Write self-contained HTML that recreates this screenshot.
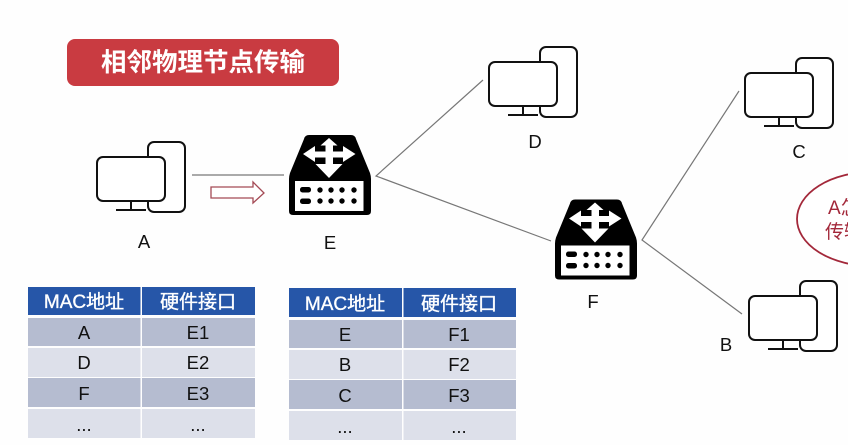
<!DOCTYPE html>
<html><head><meta charset="utf-8"><style>
html,body{margin:0;padding:0;background:#fff}
svg{display:block;filter:blur(.35px)}
text{font-family:"Liberation Sans","Noto Sans CJK SC",sans-serif;text-anchor:middle}
.l{font-size:18.5px;fill:#111}
.h{font-size:19px;fill:#fff;stroke:#fff;stroke-width:.35px}
.c{font-size:18.5px;fill:#111}
.e{font-size:19px;fill:#a3283a;text-anchor:start}
</style></head><body>
<svg width="848" height="445" viewBox="0 0 848 445" xmlns="http://www.w3.org/2000/svg">
<defs>
<g id="pc" fill="none" stroke="#111" stroke-width="2">
<rect x="51" y="-15" width="37" height="70" rx="6" fill="#fff"/>
<rect x="0" y="0" width="68" height="44" rx="6" fill="#fff"/>
<path d="M34 44V53M19 53H49"/>
</g>
<g id="rt">
<path d="M20 0H62Q66 0 67 4L81 38Q82 41 82 44V76Q82 80 78 80H4Q0 80 0 76V44Q0 41 1 38L15 4Q16 0 20 0Z" fill="#000"/>
<rect x="6" y="46" width="68.500" height="30" fill="#fff"/>
<path d="M40 3L48.500 10.500H44V16.500H54V11L66.500 19L54 27V22.500H44V29H53.500L40 43L26.500 29H36.500V22.500H26V27L14 19L26 11V16.500H36.500V10.500H31.500Z" fill="#fff"/>
<g fill="#000">
<rect x="11" y="52" width="11" height="5.500" rx="2.500"/><rect x="11" y="63.500" width="11" height="5.500" rx="2.500"/>
<circle cx="31" cy="55" r="2.700"/><circle cx="42" cy="55" r="2.700"/><circle cx="53" cy="55" r="2.700"/><circle cx="65" cy="55" r="2.700"/>
<circle cx="31" cy="66" r="2.700"/><circle cx="42" cy="66" r="2.700"/><circle cx="53" cy="66" r="2.700"/><circle cx="65" cy="66" r="2.700"/>
</g>
</g>
</defs>
<rect width="848" height="445" fill="#fefefe"/>

<rect x="67" y="39" width="272" height="47" rx="8" fill="#c93b41"/>
<text x="203" y="71" style="font-size:25.500px;font-weight:700;fill:#fff">相邻物理节点传输</text>

<g stroke="#777" stroke-width="1.200" fill="none">
<path d="M192 175H284"/>
<path d="M483 80L376 176L551 241"/>
<path d="M739 91L642 240L742 314"/>
</g>
<path d="M211 187H253V182L264 193L253 203V198H211Z" fill="#fff" stroke="#a44a55" stroke-width="1.300"/>

<use href="#pc" x="97" y="157"/>
<use href="#pc" x="489" y="62"/>
<use href="#pc" x="745" y="73"/>
<use href="#pc" x="749" y="296"/>
<use href="#rt" x="289" y="135"/>
<use href="#rt" x="555" y="199.500"/>

<text class="l" x="144" y="248">A</text>
<text class="l" x="330" y="249">E</text>
<text class="l" x="535" y="148">D</text>
<text class="l" x="799" y="158">C</text>
<text class="l" x="726" y="351">B</text>
<text class="l" x="593" y="308">F</text>

<ellipse cx="872" cy="219" rx="75" ry="47" fill="#fff" stroke="#a3283a" stroke-width="1.800"/>
<text class="e" x="828" y="214">A怎</text>
<text class="e" x="825" y="238">传输</text>

<!-- table 1 -->
<g>
<rect x="28" y="287" width="112.500" height="28" fill="#2656a8"/><rect x="142" y="287" width="113" height="28" fill="#2656a8"/>
<rect x="28" y="318" width="112.500" height="28" fill="#b5bcd0"/><rect x="142" y="318" width="113" height="28" fill="#b5bcd0"/>
<rect x="28" y="348" width="112.500" height="29" fill="#dde0ea"/><rect x="142" y="348" width="113" height="29" fill="#dde0ea"/>
<rect x="28" y="378" width="112.500" height="29" fill="#b5bcd0"/><rect x="142" y="378" width="113" height="29" fill="#b5bcd0"/>
<rect x="28" y="409" width="112.500" height="29" fill="#dde0ea"/><rect x="142" y="409" width="113" height="29" fill="#dde0ea"/>
<text class="h" x="84" y="308">MAC地址</text><text class="h" x="198" y="308">硬件接口</text>
<text class="c" x="84" y="339">A</text><text class="c" x="198" y="339">E1</text>
<text class="c" x="84" y="369">D</text><text class="c" x="198" y="369">E2</text>
<text class="c" x="84" y="400">F</text><text class="c" x="198" y="400">E3</text>
<text class="c" x="84" y="431">...</text><text class="c" x="198" y="431">...</text>
</g>
<!-- table 2 -->
<g>
<rect x="289" y="288" width="113" height="29" fill="#2656a8"/><rect x="403.500" y="288" width="112.500" height="29" fill="#2656a8"/>
<rect x="289" y="320" width="113" height="28" fill="#b5bcd0"/><rect x="403.500" y="320" width="112.500" height="28" fill="#b5bcd0"/>
<rect x="289" y="350" width="113" height="29" fill="#dde0ea"/><rect x="403.500" y="350" width="112.500" height="29" fill="#dde0ea"/>
<rect x="289" y="380" width="113" height="29" fill="#b5bcd0"/><rect x="403.500" y="380" width="112.500" height="29" fill="#b5bcd0"/>
<rect x="289" y="411" width="113" height="29" fill="#dde0ea"/><rect x="403.500" y="411" width="112.500" height="29" fill="#dde0ea"/>
<text class="h" x="345" y="310">MAC地址</text><text class="h" x="459" y="310">硬件接口</text>
<text class="c" x="345" y="341">E</text><text class="c" x="459" y="341">F1</text>
<text class="c" x="345" y="371">B</text><text class="c" x="459" y="371">F2</text>
<text class="c" x="345" y="402">C</text><text class="c" x="459" y="402">F3</text>
<text class="c" x="345" y="433">...</text><text class="c" x="459" y="433">...</text>
</g>
</svg>
</body></html>
